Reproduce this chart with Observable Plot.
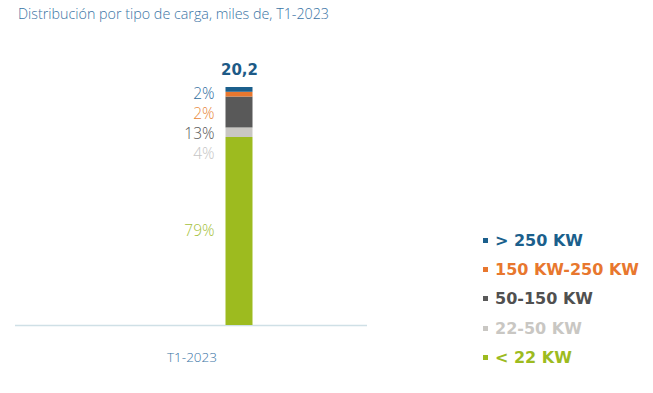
<!DOCTYPE html>
<html>
<head>
<meta charset="utf-8">
<script src="https://cdn.jsdelivr.net/npm/d3@7"></script>
<script src="https://cdn.jsdelivr.net/npm/@observablehq/plot@0.6"></script>
<style>
  html, body { margin: 0; padding: 0; background: #fff; }
  #wrap { position: relative; width: 653px; height: 393px; font-family: "Open Sans", sans-serif; }
  #title { position: absolute; left: 18px; top: 4px; font-size: 14.3px; color: #3a74a5; font-weight: 300; }
  #legend { position: absolute; left: 483px; top: 226px; font-family: "DejaVu Sans", sans-serif; }
  .item { height: 29.2px; font-size: 16px; font-weight: 700; display: flex; align-items: center; white-space: nowrap; }
  .sw { width: 5px; height: 5px; margin-right: 7px; display: inline-block; }
  #chart { position: absolute; left: 0; top: 0; }
</style>
</head>
<body>
<div id="wrap">
  <div id="chart"></div>
  <div id="title">Distribución por tipo de carga, miles de, T1-2023</div>
  <div id="legend"></div>
</div>
<script>
const period = "T1-2023";
const categories = ["< 22 KW", "22-50 KW", "50-150 KW", "150 KW-250 KW", "> 250 KW"];
const shares = [79, 4, 13, 2, 2];           // % of total
const total = 20.2;                          // thousands
const colors = ["#9dbb1f", "#c9c7c3", "#595959", "#e8772e", "#1b5f8c"];
const labelColors = ["#a5bf3a", "#c6c6c6", "#555555", "#e8883a", "#2e6d9e"];
const totalLabel = "20,2";

const data = categories.map((c, i) => ({
  period, category: c, share: shares[i], value: shares[i] * total / 100
}));

const barDx = 47.5;
const marks = [
  Plot.ruleY([0], {stroke: "#cfe0e6", strokeWidth: 1.5}),
  Plot.barY(data, {
    x: "period", y: "value", fill: "category", dx: barDx, insetLeft: 0, insetRight: 0
  }),
  Plot.text([{period, value: total}], {
    x: "period", y: "value", text: () => totalLabel, dx: barDx, dy: -17,
    fill: "#1d5a86", fontSize: 15, fontWeight: 700, fontFamily: "DejaVu Sans"
  })
];
// percent labels: bottom segment at its centre, small top segments spread downward from the top
const stacked = [];
let acc = 0;
data.forEach(d => { stacked.push({...d, y0: acc, y1: acc + d.value}); acc += d.value; });
stacked.forEach((d, i) => {
  const isBottom = i === 0;
  const rank = stacked.length - 1 - i; // 0 for the top segment
  marks.push(Plot.text([d], {
    x: "period",
    y: isBottom ? (s => (s.y0 + s.y1) / 2) : () => total,
    text: s => s.share + "%",
    dx: barDx - 25, dy: isBottom ? 0 : 7 + rank * 20,
    textAnchor: "end", fill: labelColors[i], fontSize: 15.5, fontWeight: 300
  }));
});

const chart = Plot.plot({
  width: 653, height: 393,
  marginLeft: 15, marginRight: 286, marginTop: 87, marginBottom: 68,
  style: {fontFamily: "'Open Sans', sans-serif", background: "transparent"},
  x: {domain: [period], padding: 0.8575, label: null, tickSize: 0},
  y: {domain: [0, total], axis: null},
  color: {domain: categories, range: colors},
  marks: [
    ...marks,
    Plot.axisX({tickSize: 0, tickPadding: 27, fontSize: 13.5, fill: "#3a74a5", fontWeight: 300, label: null})
  ]
});
document.getElementById("chart").appendChild(chart);

const legend = document.getElementById("legend");
categories.slice().reverse().forEach(c => {
  const i = categories.indexOf(c);
  const div = document.createElement("div");
  div.className = "item";
  div.style.color = colors[i] === "#595959" ? "#505050" : colors[i];
  div.innerHTML = `<span class="sw" style="background:${colors[i]}"></span>${c.replace(/</g, "&lt;").replace(/>/g, "&gt;")}`;
  legend.appendChild(div);
});
</script>
</body>
</html>
